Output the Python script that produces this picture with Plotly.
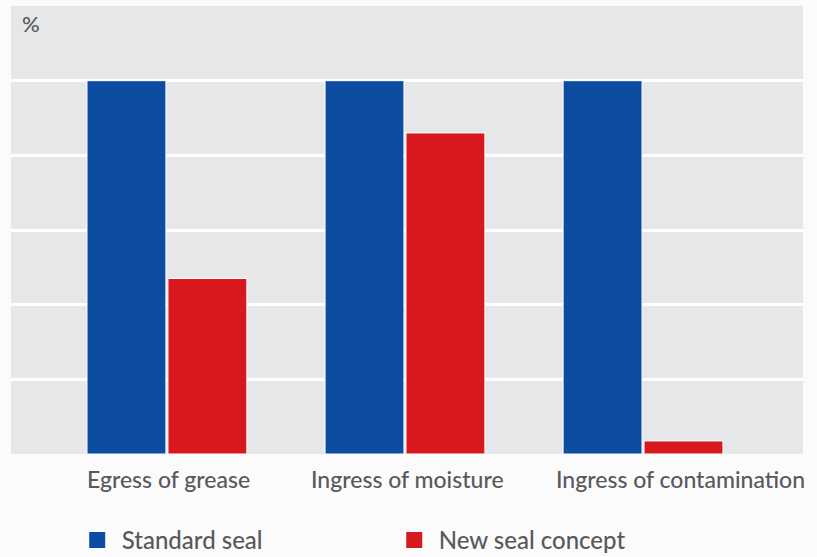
import plotly.graph_objects as go

categories = ["Egress of grease", "Ingress of moisture", "Ingress of contamination"]
standard_seal = [100, 100, 100]
new_seal = [47, 86, 3.5]
series_names = ["Standard seal", "New seal concept"]
colors = ["#0c4da2", "#d7191f"]
y_ticks = [0, 20, 40, 60, 80, 100]

FONT = "Lato"
TXT = "#58595b"
label_xshift = [2, 3, 37]  # label offsets as drawn in the original

fig = go.Figure()
for name, vals, col in zip(series_names, [standard_seal, new_seal], colors):
    fig.add_trace(go.Bar(
        x=categories, y=vals, name=name, showlegend=False,
        marker=dict(color=col, line=dict(color="#ffffff", width=1)),
    ))
# legend-only entries with larger square symbols
for name, col in zip(series_names, colors):
    fig.add_trace(go.Scatter(
        x=[None], y=[None], name=name, mode="markers",
        marker=dict(symbol="square", size=20, color=col),
    ))

annotations = [dict(
    text="%", xref="paper", yref="paper", x=0.011, y=0.995,
    xanchor="left", yanchor="top", showarrow=False,
    font=dict(size=22, color=TXT, family=FONT, weight=500),
)]
for cat, dx in zip(categories, label_xshift):
    annotations.append(dict(
        text=cat, x=cat, y=0, xref="x", yref="y", xanchor="center", yanchor="top",
        xshift=dx, yshift=-9, showarrow=False,
        font=dict(size=23, color=TXT, family=FONT, weight=500),
    ))

fig.update_layout(
    width=817, height=557,
    margin=dict(l=11, r=14, t=6, b=103),
    paper_bgcolor="#fbfbfc",
    plot_bgcolor="#e6e7e8",
    barmode="group",
    bargap=0.32,
    bargroupgap=0.025,
    font=dict(family=FONT, color=TXT, size=23, weight=500),
    showlegend=True,
    legend=dict(
        orientation="h", xref="container", yref="container",
        x=0.089, xanchor="left", y=0.03, yanchor="middle",
        itemsizing="trace", itemwidth=39, entrywidth=263,
        font=dict(size=24, color=TXT, weight=500),
        bgcolor="rgba(0,0,0,0)",
    ),
    xaxis=dict(
        range=[-0.655, 2.672], showgrid=False, zeroline=False, automargin=False,
        showticklabels=False, ticks="",
    ),
    yaxis=dict(
        range=[0, 120], tickvals=y_ticks, showticklabels=False, automargin=False,
        showgrid=True, gridcolor="#ffffff", gridwidth=3, zeroline=False,
    ),
    annotations=annotations,
)

fig.write_html("out.html", config={"displayModeBar": False},
               post_script="document.body.style.margin='0';")
